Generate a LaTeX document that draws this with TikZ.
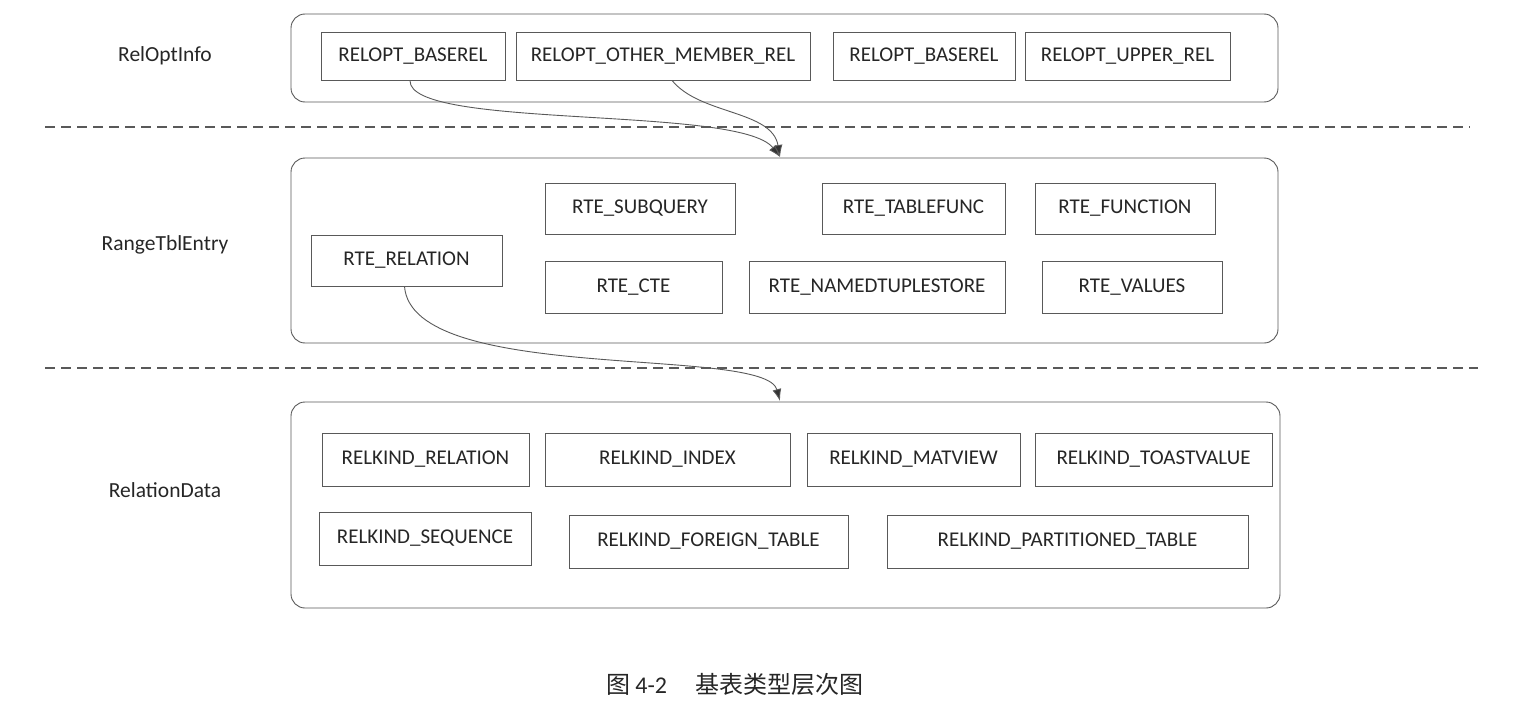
\documentclass[tikz,border=0pt]{standalone}
\usepackage{fontspec}
\setmainfont{Carlito}
\newfontfamily\cjk{Noto Sans CJK SC}
\usetikzlibrary{arrows.meta}
\tikzset{
  box/.style={draw=black!65, line width=0.8pt, fill=white, text=black!85, font=\fontsize{21}{24}\selectfont, inner sep=0pt},
  cont/.style={draw=black!65, line width=0.9pt, rounded corners=14pt},
  lbl/.style={text=black!85, font=\fontsize{21.5}{24}\selectfont},
  sep/.style={draw=black!65, line width=1.2pt, dash pattern=on 10pt off 6pt},
  link/.style={draw=black!65, line width=0.9pt, -{Latex[length=12pt,width=9pt,fill=black!80]}},
}
\newcommand{\bx}[6]{\node[box, minimum width=#4-#2, minimum height=#5-#3] (#1) at ({(#2+#4)/2},{(#3+#5)/2}) {#6};}
\begin{document}
\begin{tikzpicture}[x=1pt,y=-1pt]
\useasboundingbox (0,0) rectangle (1537,701);
% containers
\draw[cont] (291,14) rectangle (1278,102);
\draw[cont] (291,158) rectangle (1278,343);
\draw[cont] (291,402) rectangle (1280,608);
\node[coordinate] (t1) at (780,157) {};
\node[coordinate] (t2) at (780,401) {};
% separators
\node[coordinate] (s1a) at (45,127) {};
\node[coordinate] (s1b) at (1470,127) {};
\node[coordinate] (s2a) at (45,368) {};
\node[coordinate] (s2b) at (1478,368) {};
\draw[sep] (s1a) -- (s1b);
\draw[sep] (s2a) -- (s2b);
% labels
\node[lbl] (l1) at (165,56) {RelOptInfo};
\node[lbl] (l2) at (165,245) {RangeTblEntry};
\node[lbl] (l3) at (165,490) {RelationData};
% row 1
\bx{o1}{321}{32}{505}{80}{RELOPT\_BASEREL}
\bx{o2}{516}{32}{810}{80}{RELOPT\_OTHER\_MEMBER\_REL}
\bx{o3}{833}{32}{1015}{80}{RELOPT\_BASEREL}
\bx{o4}{1025}{32}{1230}{80}{RELOPT\_UPPER\_REL}
% RTE
\bx{r1}{545}{183}{735}{234}{RTE\_SUBQUERY}
\bx{r2}{822}{183}{1005}{234}{RTE\_TABLEFUNC}
\bx{r3}{1035}{183}{1215}{234}{RTE\_FUNCTION}
\bx{r0}{311}{235}{502}{286}{RTE\_RELATION}
\bx{r4}{545}{261}{722}{313}{RTE\_CTE}
\bx{r5}{749}{261}{1005}{313}{RTE\_NAMEDTUPLESTORE}
\bx{r6}{1042}{261}{1222}{313}{RTE\_VALUES}
% RELKIND
\bx{k1}{322}{433}{529}{486}{RELKIND\_RELATION}
\bx{k2}{545}{433}{790}{486}{RELKIND\_INDEX}
\bx{k3}{807}{433}{1020}{486}{RELKIND\_MATVIEW}
\bx{k4}{1035}{433}{1272}{486}{RELKIND\_TOASTVALUE}
\bx{k5}{319}{512}{531}{565}{RELKIND\_SEQUENCE}
\bx{k6}{569}{515}{848}{568}{RELKIND\_FOREIGN\_TABLE}
\bx{k7}{887}{515}{1248}{568}{RELKIND\_PARTITIONED\_TABLE}
% links
\draw[link] ([xshift=-3pt]o1.south) .. controls (408,130) and (740,105) .. (t1);
\draw[link] ([xshift=9pt]o2.south) .. controls (700,115) and (772,110) .. (t1);
\draw[link] ([xshift=-2pt]r0.south) .. controls (412,385) and (765,345) .. (t2);
% caption
\node[font=\fontsize{24}{28}\selectfont, text=black!85] (cap) at (735,684) {{\cjk 图} 4-2\hspace{1.2em}{\cjk 基表类型层次图}};
\end{tikzpicture}
\end{document}
